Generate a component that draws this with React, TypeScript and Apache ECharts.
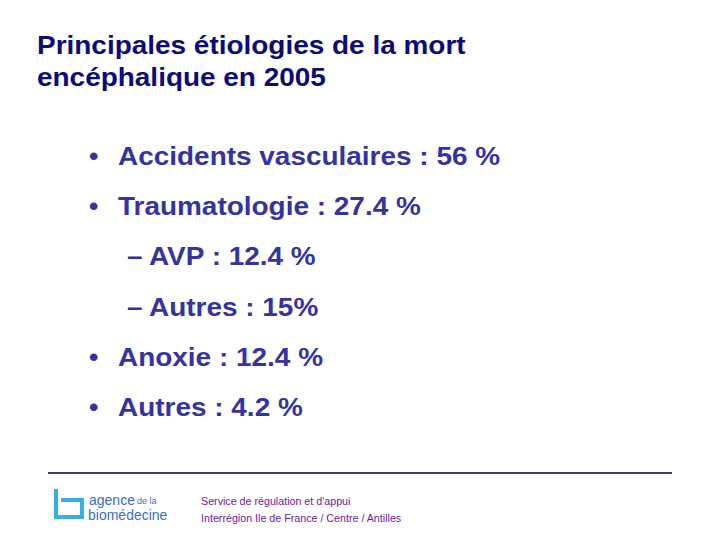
import React, { useEffect, useRef } from "react";
import * as echarts from "echarts";

const titleLines = ["Principales étiologies de la mort", "encéphalique en 2005"];
const categories = ["Accidents vasculaires", "Traumatologie", "AVP", "Autres", "Anoxie", "Autres"];
const values = [56, 27.4, 12.4, 15, 12.4, 4.2];
const levels = [0, 0, 1, 1, 0, 0];
const suffixes = [" %", " %", " %", "%", " %", " %"];
const footerLines = ["Service de régulation et d'appui", "Interrégion Ile de France / Centre / Antilles"];

const LOGO_D =
  "M0 0 L4 0 L4 26 L26 26 L26 13 L7 13 L7 9 L30 9 L30 30 L0 30 Z";

export default function App() {
  const ref = useRef<HTMLDivElement>(null);
  useEffect(() => {
    if (!ref.current) return;
    try {
      echarts.graphic.registerShape("logo", echarts.graphic.extendPath(LOGO_D, {}) as any);
    } catch (e) {}
    const chart = echarts.init(ref.current, null, { renderer: "svg" });
    const font = "Liberation Sans, Arial, sans-serif";
    const SX = 1.075;
    const elements: any[] = [];
    titleLines.forEach((t, i) => {
      elements.push({
        type: "text",
        x: 37,
        y: 45 + i * 32,
        scaleX: SX,
        style: { text: t, fill: "#0b0b7d", font: `bold 26px ${font}`, verticalAlign: "middle" },
      });
    });
    const rowGap = 50.3;
    categories.forEach((c, i) => {
      const y = 156 + i * rowGap;
      const lvl = levels[i];
      elements.push({
        type: "text",
        x: lvl === 0 ? 89 : 127,
        y,
        scaleX: SX,
        style: {
          text: lvl === 0 ? "•" : "–",
          fill: "#3333a6",
          font: `bold ${lvl === 0 ? 25 : 26}px ${font}`,
          verticalAlign: "middle",
        },
      });
      elements.push({
        type: "text",
        x: lvl === 0 ? 118 : 149,
        y,
        scaleX: SX,
        style: {
          text: `${c} : ${values[i]}${suffixes[i]}`,
          fill: "#3333a6",
          font: `bold 26px ${font}`,
          verticalAlign: "middle",
        },
      });
    });
    elements.push({
      type: "line",
      shape: { x1: 48, y1: 473, x2: 672, y2: 473 },
      style: { stroke: "#3b3a7e", lineWidth: 2 },
    });
    elements.push({
      type: "logo",
      x: 54,
      y: 489,
      scaleX: 1,
      scaleY: 1,
      style: { fill: "#33b0e8" },
    });
    elements.push({
      type: "text",
      x: 89,
      y: 500,
      style: {
        text: "agence",
        fill: "#3c6cc4",
        font: `14px ${font}`,
        verticalAlign: "middle",
      },
    });
    elements.push({
      type: "text",
      x: 137,
      y: 501,
      style: {
        text: "de la",
        fill: "#3c6cc4",
        font: `9px ${font}`,
        verticalAlign: "middle",
      },
    });
    elements.push({
      type: "text",
      x: 88,
      y: 515,
      style: {
        text: "biomédecine",
        fill: "#3c6cc4",
        font: `14px ${font}`,
        verticalAlign: "middle",
      },
    });
    footerLines.forEach((t, i) => {
      elements.push({
        type: "text",
        x: 201,
        y: 501 + i * 17,
        style: {
          text: t,
          fill: "#6a1aa0",
          font: `10.7px ${font}`,
          verticalAlign: "middle",
        },
      });
    });
    chart.setOption({
      animation: false,
      backgroundColor: "#ffffff",
      graphic: elements,
    });
    return () => chart.dispose();
  }, []);
  return <div ref={ref} style={{ width: 720, height: 540, position: "absolute", left: 0, top: 0 }} />;
}
